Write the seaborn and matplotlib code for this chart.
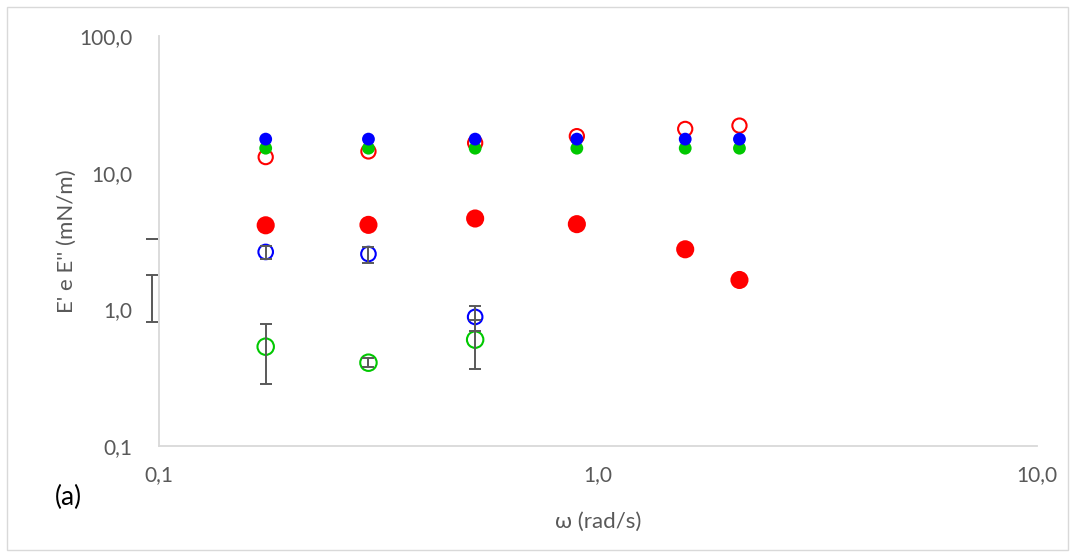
import matplotlib
matplotlib.use('Agg')
import matplotlib.pyplot as plt
from matplotlib.patches import Rectangle
from matplotlib.ticker import FuncFormatter, NullLocator
import seaborn as sns
import pandas as pd

# frequenze (rad/s)
omega = [0.175, 0.30, 0.525, 0.895, 1.58, 2.10]

# serie moduli (mN/m)
red_open = [13.0, 14.3, 16.5, 18.5, 20.9, 22.1]
red_full = [4.12, 4.15, 4.62, 4.20, 2.75, 1.64]
green_full = [15.1, 15.1, 15.1, 15.1, 15.1, 15.1]
blue_full = [17.6, 17.6, 17.6, 17.6, 17.6, 17.6]

omega_short = [0.175, 0.30, 0.525]
blue_open = [2.63, 2.54, 0.88]
blue_err = [0.28, 0.34, 0.18]
green_open = [0.533, 0.407, 0.60]
green_err = [0.25, 0.03, 0.235]

# barre d'errore "orfane" a sinistra dell'asse
stray_x = [0.0965, 0.0965]
stray_y = [1.30, 3.27]
stray_err = [0.49, 0.0]

sns.set_style("white")
plt.rcParams['font.family'] = ['Lato', 'DejaVu Sans']

fig = plt.figure(figsize=(10.75, 5.57), dpi=100)
ax = fig.add_axes([159 / 1075, 1 - 446 / 557, (1037 - 159) / 1075, (446 - 36) / 557])

RED = '#FF0000'
GREEN = '#00C800'
BLUE = '#0000FF'
GREY = '#595959'

df_ro = pd.DataFrame({'w': omega, 'E': red_open})
df_rf = pd.DataFrame({'w': omega, 'E': red_full})
df_gf = pd.DataFrame({'w': omega, 'E': green_full})
df_bf = pd.DataFrame({'w': omega, 'E': blue_full})
df_bo = pd.DataFrame({'w': omega_short, 'E': blue_open})
df_go = pd.DataFrame({'w': omega_short, 'E': green_open})

sns.scatterplot(data=df_ro, x='w', y='E', ax=ax, s=105, facecolor='none',
                edgecolor=RED, linewidth=1.5, zorder=2)
sns.scatterplot(data=df_rf, x='w', y='E', ax=ax, s=170, color=RED,
                edgecolor='none', zorder=2)
sns.scatterplot(data=df_gf, x='w', y='E', ax=ax, s=85, color=GREEN,
                edgecolor='none', zorder=3)
sns.scatterplot(data=df_bf, x='w', y='E', ax=ax, s=85, color=BLUE,
                edgecolor='none', zorder=4)
sns.scatterplot(data=df_bo, x='w', y='E', ax=ax, s=110, facecolor='none',
                edgecolor=BLUE, linewidth=1.5, zorder=3)
sns.scatterplot(data=df_go, x='w', y='E', ax=ax, s=140, facecolor='none',
                edgecolor=GREEN, linewidth=1.5, zorder=3)

ax.errorbar(omega_short, blue_open, yerr=blue_err, fmt='none', ecolor=GREY,
            elinewidth=1.4, capsize=4, capthick=1.4, zorder=5)
ax.errorbar(omega_short, green_open, yerr=green_err, fmt='none', ecolor=GREY,
            elinewidth=1.4, capsize=4, capthick=1.4, zorder=5)
eb = ax.errorbar(stray_x, stray_y, yerr=stray_err, fmt='none', ecolor=GREY,
                 elinewidth=1.4, capsize=4, capthick=1.4, zorder=5)
for art in eb.lines[1] + eb.lines[2]:
    art.set_clip_on(False)

ax.set_xscale('log')
ax.set_yscale('log')
ax.set_xlim(0.1, 10)
ax.set_ylim(0.1, 100)
ax.xaxis.set_minor_locator(NullLocator())
ax.yaxis.set_minor_locator(NullLocator())
ax.set_xticks([0.1, 1, 10])
ax.set_yticks([0.1, 1, 10, 100])
fmt = FuncFormatter(lambda v, p: f"{v:.1f}".replace('.', ','))
ax.xaxis.set_major_formatter(fmt)
ax.yaxis.set_major_formatter(fmt)
ax.tick_params(axis='both', length=0, labelsize=15, labelcolor=GREY)
ax.tick_params(axis='x', pad=14)
ax.tick_params(axis='y', pad=19)

for side in ['top', 'right']:
    ax.spines[side].set_visible(False)
for side in ['left', 'bottom']:
    ax.spines[side].set_color('#D9D9D9')
    ax.spines[side].set_linewidth(1.3)

ax.set_xlabel('ω (rad/s)', fontsize=16, color=GREY, labelpad=19)
ax.set_ylabel("E' e E'' (mN/m)", fontsize=16, color=GREY, labelpad=2)

fig.text(68 / 1075, 1 - 497 / 557, '(a)', fontsize=19, color='black',
         ha='center', va='center')

fig.patches.append(Rectangle((7 / 1075, 7 / 557), 1061 / 1075, 543 / 557,
                             transform=fig.transFigure, fill=False,
                             edgecolor='#D9D9D9', linewidth=1))

fig.savefig('out.png', dpi=100)
